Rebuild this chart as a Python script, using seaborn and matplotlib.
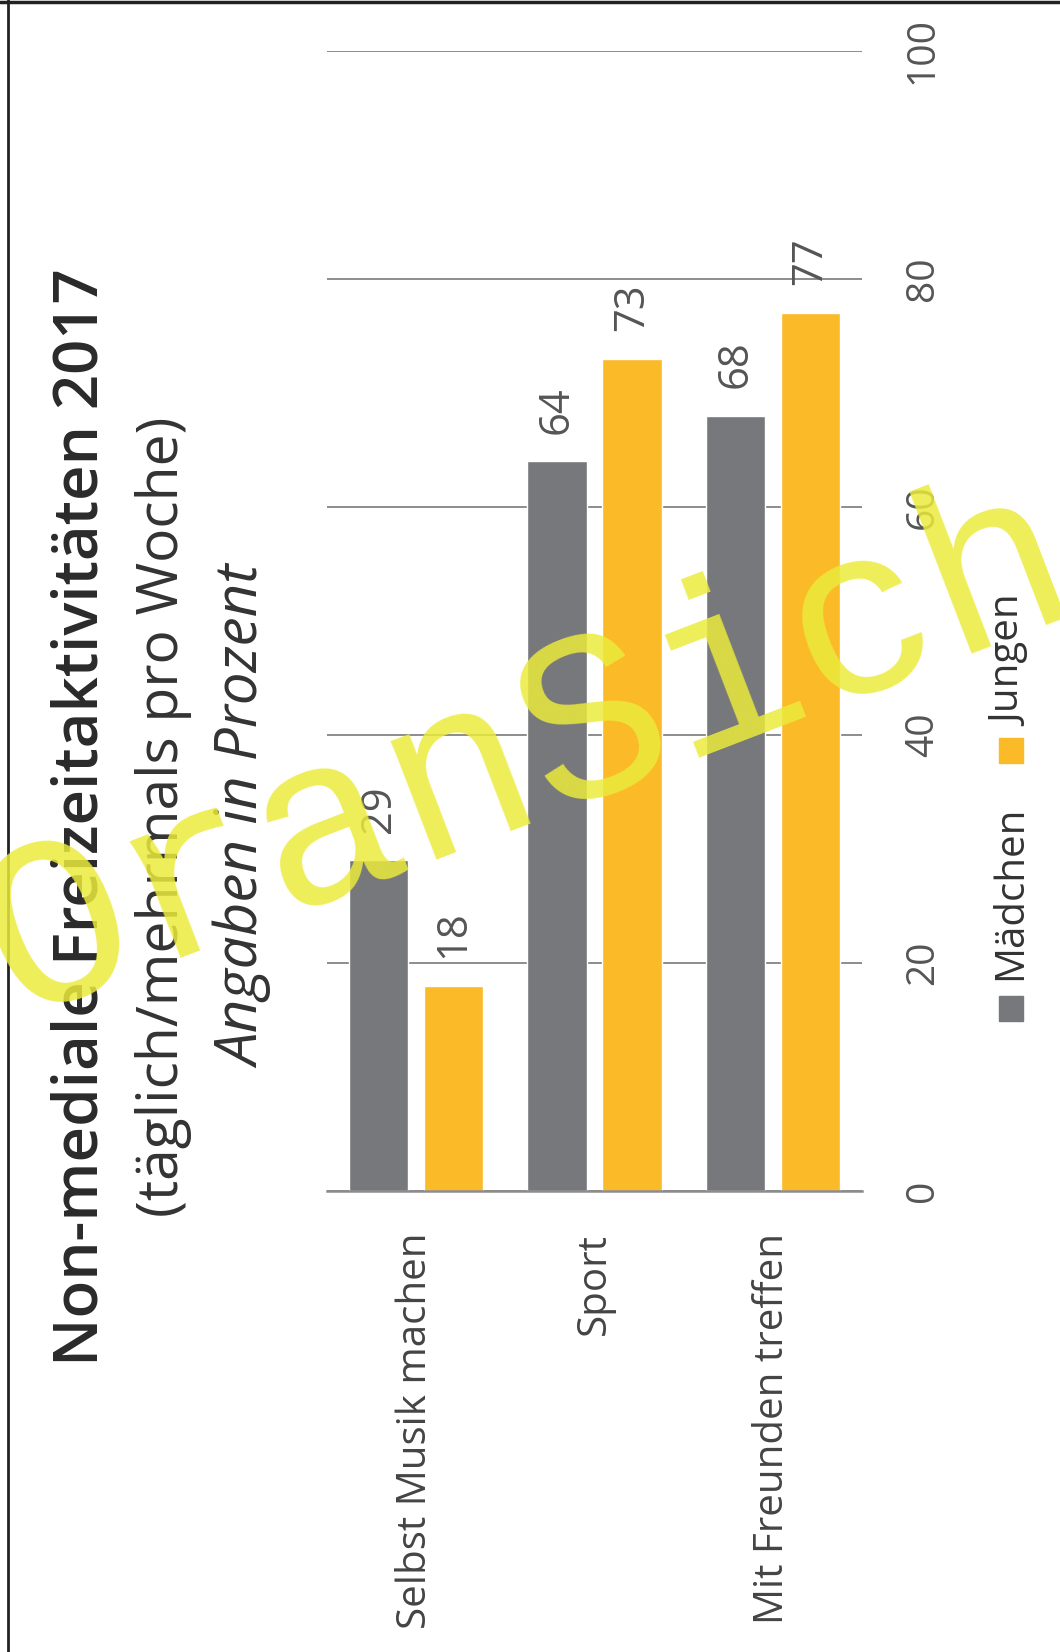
import matplotlib
matplotlib.use('Agg')
import matplotlib.pyplot as plt
import seaborn as sns
import pandas as pd
from matplotlib.patches import Rectangle
from matplotlib.lines import Line2D

# ---- data ----
categories = ["Selbst Musik machen", "Sport", "Mit Freunden treffen"]
groups = ["Mädchen", "Jungen"]
maedchen = [29, 64, 68]
jungen = [18, 73, 77]
y_ticks = [0, 20, 40, 60, 80, 100]

title = "Non-mediale Freizeitaktivitäten 2017"
subtitle = "(täglich/mehrmals pro Woche)"
unit = "Angaben in Prozent"
watermark = "OranSicht"

df = pd.DataFrame({
    "Aktivität": categories * 2,
    "Gruppe": [groups[0]] * len(categories) + [groups[1]] * len(categories),
    "Wert": maedchen + jungen,
})

sns.set_theme(style="white")
plt.rcParams['font.family'] = ['Open Sans', 'DejaVu Sans']

W, H = 1060, 1652
fig = plt.figure(figsize=(W / 100, H / 100), dpi=100)
fig.patch.set_facecolor('white')

def fx(px):
    return px / W

def fy(py):
    return 1 - py / H

GRAY = '#77787B'
YEL = '#FBBA28'
GRID = '#8C8C8C'

ax = fig.add_axes([fx(327), fy(1191), fx(862) - fx(327), fy(51) - fy(1191)])
sns.barplot(data=df, x="Aktivität", y="Wert", hue="Gruppe", order=categories,
            hue_order=groups, palette=[GRAY, YEL], width=0.84, gap=0.21,
            saturation=1, legend=False, errorbar=None, ax=ax)

ax.set_ylim(0, 100)
ax.set_xlim(-0.5, 2.5)
ax.set_xlabel("")
ax.set_ylabel("")
ax.yaxis.grid(True, color=GRID, lw=1.4)
ax.xaxis.grid(False)
ax.set_axisbelow(True)
for s in ["top", "left", "right"]:
    ax.spines[s].set_visible(False)
ax.spines["bottom"].set_color(GRID)
ax.spines["bottom"].set_linewidth(1.8)

ax.yaxis.tick_right()
ax.set_yticks(y_ticks)
ax.set_yticklabels([str(v) for v in y_ticks], rotation=90, va='center', ha='left',
                   fontsize=28, color='#555555')
ax.tick_params(axis='y', length=0, pad=30)
ax.tick_params(axis='x', length=0, pad=30)
ax.set_xticks(range(len(categories)))
ax.set_xticklabels(categories, rotation=90, ha='center', va='top', fontsize=29,
                   color='#444444')

for cont in ax.containers:
    ax.bar_label(cont, fmt='{:.0f}', padding=20, rotation=90, fontsize=30,
                 color='#555555')

# titles (rotated)
fig.text(fx(82), fy(817), title, rotation=90, ha='center', va='center',
         fontsize=44.5, fontweight='semibold', color='#2a2a2a')
fig.text(fx(164), fy(817), subtitle, rotation=90, ha='center', va='center',
         fontsize=41, color='#333333')
fig.text(fx(245), fy(817), unit, rotation=90, ha='center', va='center',
         fontsize=42, fontstyle='italic', color='#333333')

# legend (rotated)
leg_sq = [(999, 996), (999, 738)]
leg_txt = [(1011, 980), (1011, 726)]
for (sx, sy), (tx, ty), lab, col in zip(leg_sq, leg_txt, groups, [GRAY, YEL]):
    fig.patches.append(Rectangle((fx(sx), fy(sy + 25)), fx(24), 25 / H,
                                 transform=fig.transFigure, color=col))
    fig.text(fx(tx), fy(ty), lab, rotation=90, rotation_mode='anchor',
             ha='left', va='center', fontsize=29, color='#333333')

# frame
fig.add_artist(Line2D([0, 1], [fy(2), fy(2)], color='#222222', lw=2.5,
                      transform=fig.transFigure))
fig.add_artist(Line2D([fx(8), fx(8)], [0, 1], color='#222222', lw=2.0,
                      transform=fig.transFigure))

# watermark
fig.text(fx(595), fy(728), watermark, rotation=21, rotation_mode='anchor',
         ha='center', va='center', fontsize=172, family='Liberation Mono',
         color=(235 / 255, 235 / 255, 60 / 255), alpha=0.85, zorder=10)

fig.savefig('out.png', dpi=100)
